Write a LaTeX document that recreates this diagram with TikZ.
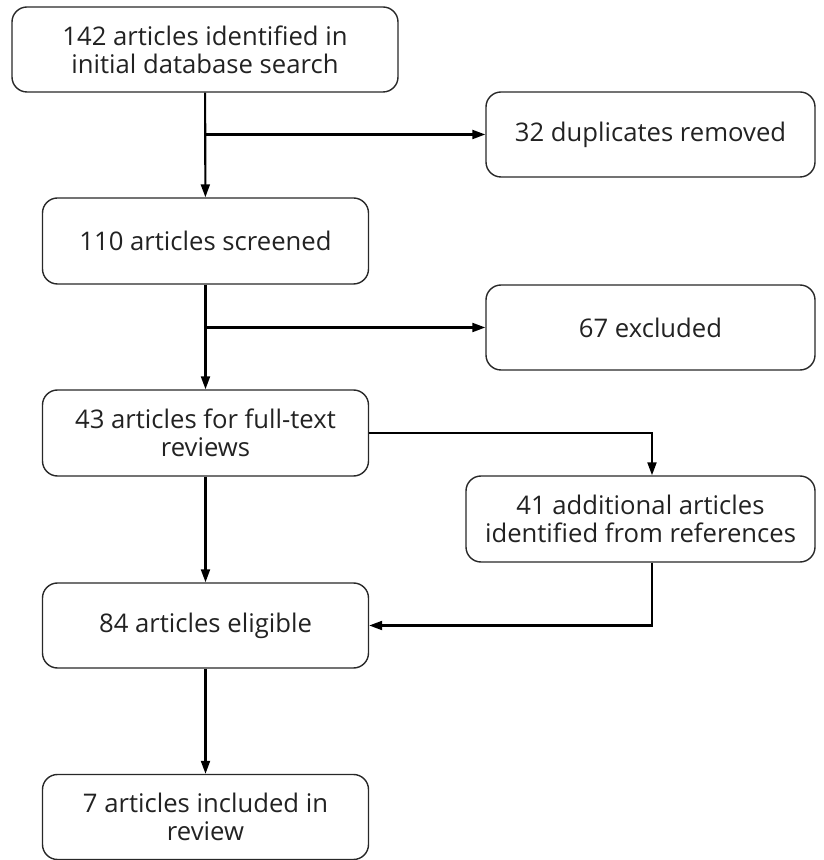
\documentclass[tikz,border=0pt]{standalone}
\usepackage{fontspec}
\setmainfont{Open Sans}
\usetikzlibrary{arrows.meta, positioning, calc}
\definecolor{boxline}{RGB}{40, 40, 40}
\definecolor{textgray}{RGB}{34, 34, 34}

\begin{document}
\begin{tikzpicture}[
        block/.style={draw=boxline, line width=0.8pt, rounded corners=0.3cm, minimum height=1.7cm, align=center, text=textgray, font=\fontsize{14.6}{15.9}\selectfont},
        arrow/.style={-{Triangle[length=0.26cm, width=0.18cm]}, line width=1.2pt, black}
    ]
        \useasboundingbox (0, 0) rectangle (16.48, 17.2);

        % Main column
        \node[block, minimum width=7.72cm] (search) at (4.1, 16.21) {142 articles identified in\\initial database search};
        \node[block, minimum width=6.52cm, minimum height=1.72cm] (screen) at (4.11, 12.38) {110 articles screened};
        \node[block, minimum width=6.52cm, minimum height=1.72cm] (fulltext) at (4.11, 8.54) {43 articles for full-text\\reviews};
        \node[block, minimum width=6.52cm] (eligible) at (4.11, 4.69) {84 articles eligible};
        \node[block, minimum width=6.52cm] (included) at (4.11, 0.86) {7 articles included in\\review};

        % Side boxes
        \node[block, minimum width=6.58cm] (dupl) at (13.01, 14.51) {32 duplicates removed};
        \node[block, minimum width=6.58cm] (excl) at (13.01, 10.65) {67 excluded};
        \node[block, minimum width=6.98cm, minimum height=1.72cm] (extra) at (12.81, 6.82) {41 additional articles\\identified from references};

        % Arrows
        \draw[arrow] (search) -- (screen);
        \draw[arrow] (search |- dupl) -- (dupl);
        \draw[arrow] (screen) -- (fulltext);
        \draw[arrow] (screen |- excl) -- (excl);
        \draw[arrow] (fulltext) -- (eligible);
        \draw[arrow] (fulltext.east) -| ([xshift=0.23cm]extra.north);
        \draw[arrow] ([xshift=0.23cm]extra.south) |- (eligible.east);
        \draw[arrow] (eligible) -- (included);
    \end{tikzpicture}
\end{document}
